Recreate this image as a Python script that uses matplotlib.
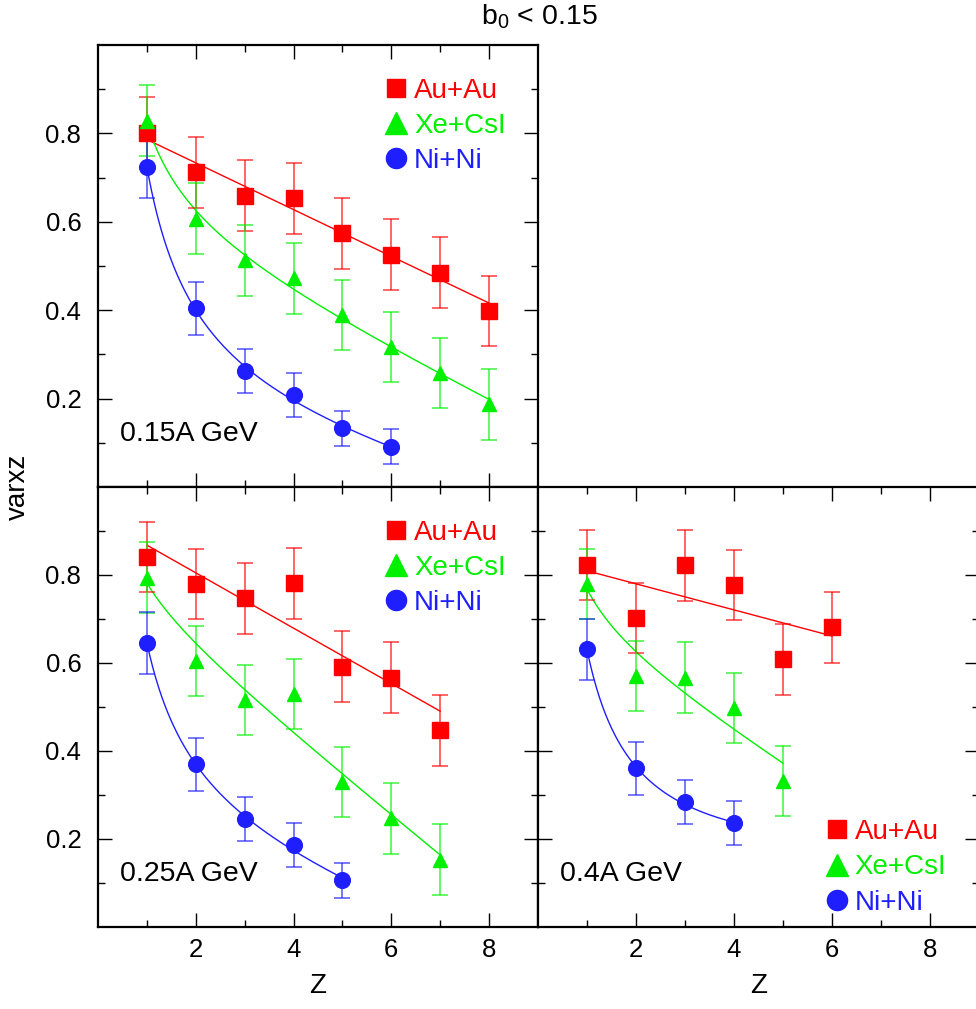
import numpy as np
import matplotlib.pyplot as plt
from matplotlib.lines import Line2D
from matplotlib.ticker import FixedLocator

plt.rcParams['font.family'] = ['Liberation Sans', 'DejaVu Sans']
plt.rcParams['mathtext.default'] = 'regular'

RED = '#ff0000'
GREEN = '#00f000'
BLUE = '#1e1eff'

# 0.15A GeV
z_au_15 = [1, 2, 3, 4, 5, 6, 7, 8]
v_au_15 = [0.802, 0.712, 0.659, 0.653, 0.574, 0.526, 0.485, 0.398]
e_au_15 = [0.08, 0.08, 0.08, 0.08, 0.08, 0.08, 0.08, 0.08]
z_xe_15 = [1, 2, 3, 4, 5, 6, 7, 8]
v_xe_15 = [0.829, 0.607, 0.513, 0.472, 0.389, 0.317, 0.258, 0.187]
e_xe_15 = [0.08, 0.08, 0.08, 0.08, 0.08, 0.08, 0.08, 0.08]
z_ni_15 = [1, 2, 3, 4, 5, 6]
v_ni_15 = [0.724, 0.404, 0.262, 0.208, 0.133, 0.091]
e_ni_15 = [0.07, 0.06, 0.05, 0.05, 0.04, 0.04]

# 0.25A GeV
z_au_25 = [1, 2, 3, 4, 5, 6, 7]
v_au_25 = [0.841, 0.779, 0.747, 0.781, 0.592, 0.567, 0.447]
e_au_25 = [0.08, 0.08, 0.08, 0.08, 0.08, 0.08, 0.08]
z_xe_25 = [1, 2, 3, 4, 5, 6, 7]
v_xe_25 = [0.794, 0.605, 0.516, 0.530, 0.330, 0.247, 0.153]
e_xe_25 = [0.08, 0.08, 0.08, 0.08, 0.08, 0.08, 0.08]
z_ni_25 = [1, 2, 3, 4, 5]
v_ni_25 = [0.646, 0.370, 0.245, 0.186, 0.106]
e_ni_25 = [0.07, 0.06, 0.05, 0.05, 0.04]

# 0.4A GeV
z_au_40 = [1, 2, 3, 4, 5, 6]
v_au_40 = [0.823, 0.702, 0.822, 0.777, 0.608, 0.681]
e_au_40 = [0.08, 0.08, 0.08, 0.08, 0.08, 0.08]
z_xe_40 = [1, 2, 3, 4, 5]
v_xe_40 = [0.780, 0.570, 0.567, 0.498, 0.332]
e_xe_40 = [0.08, 0.08, 0.08, 0.08, 0.08]
z_ni_40 = [1, 2, 3, 4]
v_ni_40 = [0.631, 0.361, 0.283, 0.236]
e_ni_40 = [0.07, 0.06, 0.05, 0.05]

systems = ['Au+Au', 'Xe+CsI', 'Ni+Ni']
colors = [RED, GREEN, BLUE]
markers = ['s', '^', 'o']
msizes = [11.3, 10.0, 11.3]
fits = ['lin', 'inv', 'inv']


def fit_curve(z, v, kind):
    z = np.asarray(z, float)
    v = np.asarray(v, float)
    zz = np.linspace(z.min(), z.max(), 200)
    if kind == 'lin':
        coef = np.polyfit(z, v, 1)
        return zz, np.polyval(coef, zz)
    A = np.column_stack([np.ones_like(z), z, 1.0 / z])
    coef = np.linalg.lstsq(A, v, rcond=None)[0]
    B = np.column_stack([np.ones_like(zz), zz, 1.0 / zz])
    return zz, B @ coef


def setup_axes(ax, xlabels=True, ylabels=True):
    ax.set_xlim(0, 9)
    ax.set_ylim(0, 1)
    ax.xaxis.set_major_locator(FixedLocator([2, 4, 6, 8]))
    ax.xaxis.set_minor_locator(FixedLocator([1, 3, 5, 7]))
    ax.yaxis.set_major_locator(FixedLocator([0.2, 0.4, 0.6, 0.8]))
    ax.yaxis.set_minor_locator(FixedLocator([0.1, 0.3, 0.5, 0.7, 0.9]))
    ax.tick_params(which='both', direction='in', top=True, right=True,
                   width=1.0, labelsize=18.5, color='black')
    ax.tick_params(which='major', length=10)
    ax.tick_params(which='minor', length=5)
    ax.tick_params(axis='x', pad=8)
    ax.tick_params(axis='y', pad=12)
    ax.tick_params(labelbottom=xlabels, labelleft=ylabels)
    for s in ax.spines.values():
        s.set_linewidth(1.6)
    if xlabels:
        ax.set_xlabel('Z', fontsize=20, labelpad=8)


def draw_panel(ax, data, energy, legend_anchor):
    for (z, v, e), c, m, ms, kind in zip(data, colors, markers, msizes, fits):
        zz, ff = fit_curve(z, v, kind)
        ax.plot(zz, ff, color=c, lw=1.0, zorder=2)
        ax.errorbar(z, v, yerr=e, fmt='none', ecolor=c, alpha=0.65,
                    elinewidth=1.3, capsize=5.5, capthick=1.3, zorder=3)
        ax.plot(z, v, ls='none', marker=m, ms=ms, color=c, mec=c, zorder=4)
    ax.text(0.05, 0.12, energy, transform=ax.transAxes, fontsize=20.5,
            va='center', ha='left')
    handles = [Line2D([], [], ls='none', marker=m, ms=s, color=c)
               for m, s, c in zip(markers, [13.5, 16, 14.5], colors)]
    ax.legend(handles, systems, loc='upper left', bbox_to_anchor=legend_anchor,
              frameon=False, fontsize=20, labelcolor=colors, handlelength=1.0,
              handletextpad=0.15, labelspacing=0.33, borderpad=0,
              borderaxespad=0)


W, H = 976, 1009
fig = plt.figure(figsize=(W / 100, H / 100), dpi=100)

ax1 = fig.add_axes([98 / W, (H - 487) / H, 440 / W, 442 / H])
ax2 = fig.add_axes([98 / W, (H - 927) / H, 440 / W, 440 / H])
ax3 = fig.add_axes([538 / W, (H - 927) / H, 441 / W, 440 / H])

setup_axes(ax1, xlabels=False)
setup_axes(ax2)
setup_axes(ax3, ylabels=False)

draw_panel(ax1, [(z_au_15, v_au_15, e_au_15), (z_xe_15, v_xe_15, e_xe_15),
                 (z_ni_15, v_ni_15, e_ni_15)], '0.15A GeV', (0.646, 0.926))
draw_panel(ax2, [(z_au_25, v_au_25, e_au_25), (z_xe_25, v_xe_25, e_xe_25),
                 (z_ni_25, v_ni_25, e_ni_25)], '0.25A GeV', (0.646, 0.926))
draw_panel(ax3, [(z_au_40, v_au_40, e_au_40), (z_xe_40, v_xe_40, e_xe_40),
                 (z_ni_40, v_ni_40, e_ni_40)], '0.4A GeV', (0.646, 0.245))

fig.text(539 / W, 1 - 17 / H, r'$b_0$ < 0.15', fontsize=20.5, ha='center', va='center')
fig.text(18 / W, 1 - 487 / H, 'varxz', fontsize=20, rotation=90, ha='center', va='center')

fig.savefig('out.png', dpi=100)
